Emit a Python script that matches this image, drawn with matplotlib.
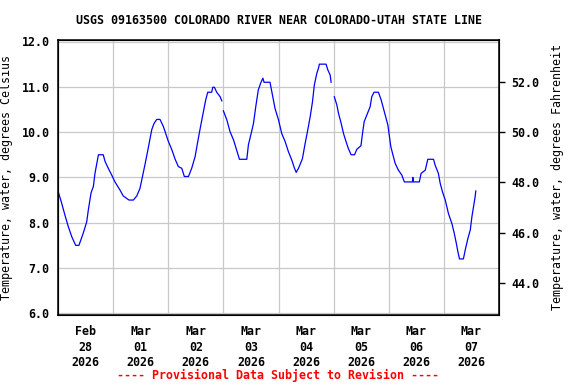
import numpy as np
import matplotlib
matplotlib.use("Agg")
import matplotlib.pyplot as plt
import matplotlib.dates as mdates
from datetime import datetime, timedelta

title = "USGS 09163500 COLORADO RIVER NEAR COLORADO-UTAH STATE LINE"
start = datetime(2026, 2, 28)

# hours after Feb 28 00:00 and water temperature (deg C)
# NaN marks the two short gaps in the record
hours = [0.0, 1.6, 3.0, 4.5, 6.0, 7.7, 9.1, 11.0, 12.5, 13.2, 14.4, 15.4, 16.1,
         16.9, 17.6, 19.7, 20.5, 21.9, 23.4, 24.8, 27.0, 28.4, 30.9, 32.8, 34.3,
         35.7, 36.7, 37.9, 39.3, 40.8, 41.8, 43.0, 44.4, 45.9, 48.0, 49.5, 51.0,
         52.4, 53.9, 55.0, 56.8, 58.2, 59.7, 60.7, 61.9, 62.9, 63.7, 64.3, 65.2,
         66.9, 67.4, 68.1, 69.1, 70.6, 71.3,
         71.6,
         72.0, 73.5, 74.9, 76.4, 77.8, 79.0, 82.2, 82.9, 84.1, 85.1, 86.1, 87.2,
         88.3, 89.2, 89.7, 92.3, 93.1, 94.5, 96.0, 97.4, 98.9, 100.3, 101.8,
         102.9, 103.7, 104.7, 106.4, 107.6, 108.6, 109.8, 110.8, 111.6, 112.7,
         113.4, 113.8, 116.7, 117.5, 118.5, 118.9,
         119.6,
         120.3, 121.4, 122.1, 123.3, 124.3, 125.4, 126.4, 127.6, 129.1, 130.1,
         131.9, 132.5, 133.3, 134.5, 135.9, 136.6, 137.6, 139.5, 140.7, 141.7,
         142.9, 143.6, 144.3, 144.9, 145.8, 146.8, 148.2, 149.7, 150.8, 154.3,
         154.5, 154.7, 157.3, 158.1, 159.9, 160.6, 161.0, 163.5, 164.2, 165.6,
         166.4, 167.4, 168.6, 170.0, 171.5, 172.5, 173.4, 174.1, 174.8, 176.5,
         177.3, 178.5, 179.5, 180.2, 180.9, 181.6, 181.9]
temp_c = [8.70, 8.43, 8.17, 7.91, 7.69, 7.50, 7.50, 7.77, 8.02, 8.28, 8.66, 8.80, 9.09,
          9.31, 9.50, 9.50, 9.35, 9.20, 9.05, 8.90, 8.72, 8.59, 8.50, 8.50, 8.59,
          8.76, 9.00, 9.29, 9.65, 10.05, 10.19, 10.28, 10.28, 10.12, 9.80, 9.62, 9.40,
          9.24, 9.20, 9.02, 9.02, 9.20, 9.46, 9.75, 10.08, 10.34, 10.56, 10.71, 10.88,
          10.88, 10.99, 10.99, 10.88, 10.78, 10.69,
          np.nan,
          10.47, 10.27, 10.01, 9.83, 9.60, 9.40, 9.40, 9.72, 9.97, 10.19, 10.56, 10.93,
          11.09, 11.19, 11.10, 11.10, 10.89, 10.52, 10.27, 9.97, 9.79, 9.57, 9.38,
          9.21, 9.11, 9.20, 9.41, 9.75, 10.01, 10.34, 10.67, 11.04, 11.30,
          11.41, 11.50, 11.50, 11.37, 11.26, 11.10,
          np.nan,
          10.78, 10.60, 10.42, 10.19, 9.97, 9.79, 9.64, 9.50, 9.50, 9.62,
          9.70, 9.94, 10.23, 10.38, 10.56, 10.78, 10.88, 10.88, 10.71, 10.52,
          10.30, 10.16, 9.90, 9.68, 9.50, 9.31, 9.16, 9.05, 8.90, 8.90,
          9.00, 8.90, 8.90, 9.09, 9.16, 9.31, 9.40, 9.40, 9.27, 9.09,
          8.87, 8.68, 8.50, 8.20, 7.98, 7.77, 7.55, 7.36, 7.20, 7.20,
          7.40, 7.66, 7.84, 8.13, 8.35, 8.57, 8.70]

times = [start + timedelta(hours=h) for h in hours]
days = [start + timedelta(days=d) for d in range(9)]
noons = [start + timedelta(days=d, hours=12) for d in range(8)]
tick_labels = [f"{d:%b}\n{d:%d}\n{d:%Y}" for d in noons]

font = "DejaVu Sans Mono"
plt.rcParams["font.family"] = font
plt.rcParams["font.weight"] = "bold"
plt.rcParams["font.size"] = 8.4

fig = plt.figure(figsize=(5.76, 3.84), dpi=100)
ax = fig.add_axes([58 / 576, 1 - 315.3 / 384, 441 / 576, 275.8 / 384])

ax.plot(times, temp_c, color="blue", lw=0.9)

ylo, yhi = 6 - 2 / 45.3, 12 + 2 / 45.3
ax.set_ylim(ylo, yhi)
ax.set_xlim(days[0], days[-1])
ax.set_yticks(np.arange(6, 12.1, 1))
ax.set_yticklabels([f"{v:.1f}" for v in np.arange(6, 12.1, 1)])
ax.set_xticks(days)
ax.set_xticklabels([])
ax.set_xticks(noons, minor=True)
ax.set_xticklabels(tick_labels, minor=True, linespacing=1.25)
ax.tick_params(axis="x", which="both", length=0, pad=7)
ax.tick_params(axis="y", length=0, pad=6)
ax.grid(True, color="#c8c8c8", lw=0.9)
for s in ax.spines.values():
    s.set_linewidth(1.1)

ax2 = ax.twinx()
ax2.set_ylim(ylo * 1.8 + 32, yhi * 1.8 + 32)
ax2.set_yticks(np.arange(44, 52.1, 2))
ax2.set_yticklabels([f"{v:.1f}" for v in np.arange(44, 52.1, 2)])
ax2.tick_params(axis="y", length=4, width=1, pad=5)

ax.set_title(title, fontsize=8.4, fontweight="bold", pad=11)
ax.set_ylabel("Temperature, water, degrees Celsius", labelpad=6)
ax2.set_ylabel("Temperature, water, degrees Fahrenheit", labelpad=8)

fig.text(278 / 576, 1 - 375 / 384, "---- Provisional Data Subject to Revision ----",
         color="red", ha="center", va="center", fontweight="bold")

fig.savefig("out.png", dpi=100)
